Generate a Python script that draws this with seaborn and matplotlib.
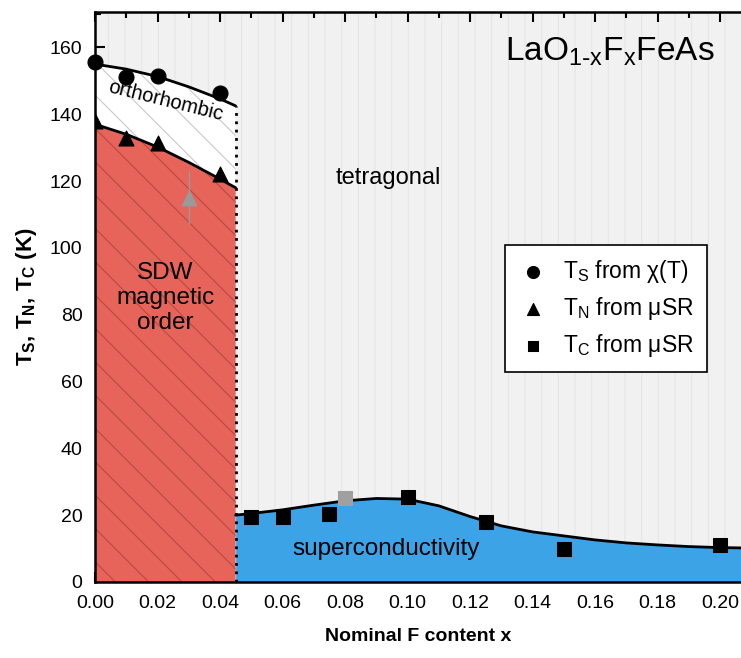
import numpy as np
import pandas as pd
import matplotlib
matplotlib.use("Agg")
import matplotlib.pyplot as plt
import seaborn as sns
from matplotlib.ticker import MultipleLocator

sns.set_theme(style="ticks")
plt.rcParams['font.family'] = ['Liberation Sans', 'DejaVu Sans']
plt.rcParams['hatch.linewidth'] = 0.8
for k in ['text.color', 'axes.labelcolor', 'xtick.color', 'ytick.color',
          'axes.edgecolor']:
    plt.rcParams[k] = 'black'

# ---- data ----
ts_x = [0.00, 0.01, 0.02, 0.04]
ts_y = [155.5, 151.0, 151.5, 146.5]
tn_x = [0.00, 0.01, 0.02, 0.04]
tn_y = [138.0, 133.0, 131.5, 122.0]
tn_gray_x = [0.03]
tn_gray_y = [115.0]
tc_x = [0.05, 0.06, 0.075, 0.10, 0.125, 0.15, 0.20]
tc_y = [19.5, 19.5, 20.5, 25.5, 18.0, 10.0, 11.0]
tc_gray_x = [0.08]
tc_gray_y = [25.0]

# boundary curves (guides to the eye)
ts_line_x = [0.0, 0.01, 0.02, 0.03, 0.04, 0.045]
ts_line_y = [155.0, 153.5, 151.3, 148.2, 144.6, 142.5]
tn_line_x = [0.0, 0.01, 0.02, 0.03, 0.04, 0.045]
tn_line_y = [137.0, 134.0, 130.2, 125.6, 120.6, 118.0]
sc_line_x = [0.045, 0.05, 0.06, 0.07, 0.08, 0.09, 0.10, 0.11, 0.12, 0.13, 0.14,
             0.15, 0.16, 0.17, 0.18, 0.19, 0.20, 0.207]
sc_line_y = [20.0, 20.5, 21.6, 23.0, 24.3, 25.0, 24.8, 22.8, 19.6, 16.8, 15.0,
             13.8, 12.6, 11.7, 11.1, 10.6, 10.3, 10.2]

x_boundary = 0.045
x_max = 0.2067
y_max = 170.6

fig = plt.figure(figsize=(7.41, 6.58), dpi=100)
ax = fig.add_axes([95/741, 76/658, 646/741, 570/658])
ax.set_xlim(0, x_max)
ax.set_ylim(0, y_max)

# tetragonal background with faint vertical stripes
ax.fill_between([0, x_max], 0, y_max, facecolor='#f1f1f1',
                edgecolor='#e6e6e6', hatch='|', linewidth=0, zorder=0)
# orthorhombic region
ax.fill_between(ts_line_x, tn_line_y, ts_line_y, facecolor='white',
                edgecolor='#c8c8c8', hatch='\\', linewidth=0, zorder=1)
# SDW region
ax.fill_between(tn_line_x, 0, tn_line_y, facecolor='#e7645a',
                edgecolor='#b94a42', hatch='\\', linewidth=0, zorder=1)
# superconductivity
ax.fill_between(sc_line_x, 0, sc_line_y, facecolor='#3ca3e6',
                linewidth=0, zorder=1)

# boundary curves
sns.lineplot(x=ts_line_x, y=ts_line_y, color='black', lw=2, ax=ax, zorder=3)
sns.lineplot(x=tn_line_x, y=tn_line_y, color='black', lw=2, ax=ax, zorder=3)
sns.lineplot(x=sc_line_x, y=sc_line_y, color='black', lw=2, ax=ax, zorder=3)
ax.plot([x_boundary, x_boundary], [0, ts_line_y[-1]], color='black', lw=2,
        ls=(0, (1, 2)), zorder=3)

# markers
sns.scatterplot(x=ts_x, y=ts_y, marker='o', s=115, color='black', edgecolor='black',
                ax=ax, zorder=4, label=r'T$_\mathregular{S}$ from χ(T)', clip_on=False)
sns.scatterplot(x=tn_x, y=tn_y, marker='^', s=115, color='black', edgecolor='black',
                ax=ax, zorder=4, label=r'T$_\mathregular{N}$ from μSR')
sns.scatterplot(x=tc_x, y=tc_y, marker='s', s=90, color='black', edgecolor='black',
                ax=ax, zorder=4, label=r'T$_\mathregular{C}$ from μSR')
ax.errorbar(tn_gray_x, tn_gray_y, yerr=8, fmt='none', ecolor='#999999', lw=1, zorder=4)
sns.scatterplot(x=tn_gray_x, y=tn_gray_y, marker='^', s=110, color='#9a9a9a',
                edgecolor='#9a9a9a', ax=ax, zorder=5)
sns.scatterplot(x=tc_gray_x, y=tc_gray_y, marker='s', s=90, color='#a0a0a0',
                edgecolor='#a0a0a0', ax=ax, zorder=5)

# text annotations
ax.text(410/646, 0.93, r'LaO$_\mathregular{1\text{-}x}$F$_\mathregular{x}$FeAs',
        transform=ax.transAxes, fontsize=24, ha='left', va='center')
ax.text(0.094, 121, 'tetragonal', fontsize=17, ha='center', va='center')
ax.text(0.0225, 85, 'SDW\nmagnetic\norder', fontsize=17.5, ha='center', va='center',
        linespacing=1.15, zorder=6)
ax.text(0.0225, 144, 'orthorhombic', fontsize=14.5, ha='center', va='center',
        rotation=-14, zorder=6)
ax.text(0.093, 10, 'superconductivity', fontsize=17.5, ha='center', va='center', zorder=6)

# legend
leg = ax.legend(loc='upper left', bbox_to_anchor=(410/646, (582-245)/570),
                borderaxespad=0, frameon=True, fontsize=16.5, handletextpad=0.7,
                borderpad=0.55, labelspacing=0.45, handlelength=1.3, fancybox=False,
                markerscale=0.8)
leg.get_frame().set_edgecolor('black')
leg.get_frame().set_linewidth(1.2)
leg.get_frame().set_facecolor('white')
leg.get_frame().set_alpha(1)
leg.set_zorder(7)

# axes styling
ax.xaxis.set_major_locator(MultipleLocator(0.02))
ax.xaxis.set_minor_locator(MultipleLocator(0.01))
ax.yaxis.set_major_locator(MultipleLocator(20))
ax.yaxis.set_minor_locator(MultipleLocator(10))
ax.tick_params(which='both', direction='in', top=True, right=False,
               labelsize=14, width=1.5, colors='black')
ax.tick_params(which='major', length=7)
ax.tick_params(which='minor', length=4)
ax.tick_params(axis='x', pad=9)
ax.tick_params(axis='y', pad=9)
ax.xaxis.set_major_formatter(matplotlib.ticker.FormatStrFormatter('%.2f'))
for side in ['left', 'bottom', 'top']:
    ax.spines[side].set_linewidth(1.8)
    ax.spines[side].set_color('black')
    ax.spines[side].set_zorder(8)
ax.spines['right'].set_visible(False)

ax.set_xlabel('Nominal F content x', fontsize=14, fontweight='bold', labelpad=12)
ax.set_ylabel(r'T$_\mathregular{S}$, T$_\mathregular{N}$, T$_\mathregular{C}$ (K)',
              fontsize=16, fontweight='bold', labelpad=8)
ax.grid(False)

fig.savefig('out.png', dpi=100)
